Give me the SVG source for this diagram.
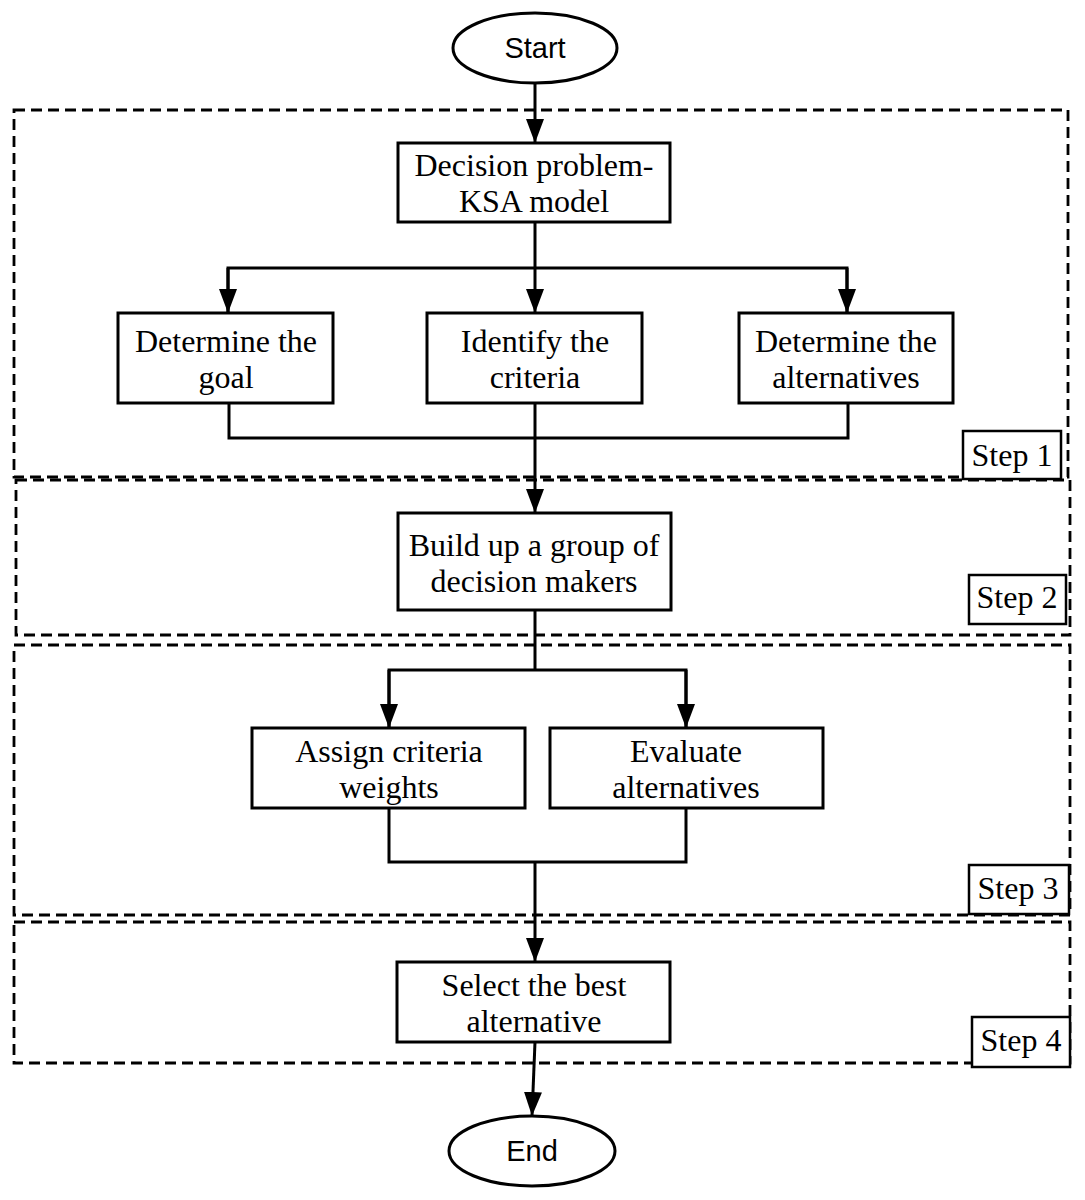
<svg xmlns="http://www.w3.org/2000/svg" width="1085" height="1200" viewBox="0 0 1085 1200">
<style>
.box{fill:#fff;stroke:#000;stroke-width:3}
.step{fill:#fff;stroke:#000;stroke-width:2.5}
.dash{fill:none;stroke:#000;stroke-width:2.8;stroke-dasharray:11 6}
.t{font-family:"Liberation Serif","Times New Roman",serif;font-size:32px;text-anchor:middle;fill:#000}
.s{font-family:"Liberation Sans",Arial,sans-serif;font-size:29px;text-anchor:middle;fill:#000}
.c{fill:none;stroke:#000;stroke-width:3}
</style>
<defs>
<marker id="arr" markerUnits="userSpaceOnUse" markerWidth="24" markerHeight="18" viewBox="0 0 24 18" refX="24" refY="9" orient="auto">
<path d="M0,0 L24,9 L0,18 Z" fill="#000"/>
</marker>
</defs>

<g id="regions">
<rect id="region1" class="dash" x="14" y="110" width="1054" height="367"/>
<rect id="region2" class="dash" x="16" y="480" width="1054" height="155"/>
<rect id="region3" class="dash" x="14" y="645" width="1056" height="270"/>
<rect id="region4" class="dash" x="14" y="922" width="1056" height="141"/>
</g>

<g id="connectors">
<line class="c" x1="535" y1="83" x2="535" y2="143" marker-end="url(#arr)"/>
<line class="c" x1="535" y1="222" x2="535" y2="313" marker-end="url(#arr)"/>
<polyline class="c" points="228,313 228,268 847,268 847,313"/>
<line class="c" x1="228" y1="268" x2="228" y2="313" marker-end="url(#arr)"/>
<line class="c" x1="847" y1="268" x2="847" y2="313" marker-end="url(#arr)"/>
<polyline class="c" points="229,403 229,438 848,438 848,403"/>
<line class="c" x1="535" y1="403" x2="535" y2="513" marker-end="url(#arr)"/>
<line class="c" x1="535" y1="610" x2="535" y2="670"/>
<polyline class="c" points="389,728 389,670 686,670 686,728"/>
<line class="c" x1="389" y1="670" x2="389" y2="728" marker-end="url(#arr)"/>
<line class="c" x1="686" y1="670" x2="686" y2="728" marker-end="url(#arr)"/>
<polyline class="c" points="389,808 389,862 686,862 686,808"/>
<line class="c" x1="535" y1="862" x2="535" y2="962" marker-end="url(#arr)"/>
<line class="c" x1="535" y1="1042" x2="532" y2="1116" marker-end="url(#arr)"/>
</g>

<g id="start">
<ellipse class="box" cx="535" cy="48" rx="82" ry="35"/>
<text class="s" x="535" y="58">Start</text>
</g>
<g id="decision">
<rect class="box" x="398" y="143" width="272" height="79"/>
<text class="t" x="534" y="176">Decision problem-</text>
<text class="t" x="534" y="212">KSA model</text>
</g>
<g id="goal">
<rect class="box" x="118" y="313" width="215" height="90"/>
<text class="t" x="226" y="352">Determine the</text>
<text class="t" x="226" y="388">goal</text>
</g>
<g id="criteria">
<rect class="box" x="427" y="313" width="215" height="90"/>
<text class="t" x="535" y="352">Identify the</text>
<text class="t" x="535" y="388">criteria</text>
</g>
<g id="alternatives">
<rect class="box" x="739" y="313" width="214" height="90"/>
<text class="t" x="846" y="352">Determine the</text>
<text class="t" x="846" y="388">alternatives</text>
</g>
<g id="build">
<rect class="box" x="398" y="513" width="273" height="97"/>
<text class="t" x="534" y="556">Build up a group of</text>
<text class="t" x="534" y="592">decision makers</text>
</g>
<g id="assign">
<rect class="box" x="252" y="728" width="273" height="80"/>
<text class="t" x="389" y="762">Assign criteria</text>
<text class="t" x="389" y="798">weights</text>
</g>
<g id="evaluate">
<rect class="box" x="550" y="728" width="273" height="80"/>
<text class="t" x="686" y="762">Evaluate</text>
<text class="t" x="686" y="798">alternatives</text>
</g>
<g id="select">
<rect class="box" x="397" y="962" width="273" height="80"/>
<text class="t" x="534" y="996">Select the best</text>
<text class="t" x="534" y="1032">alternative</text>
</g>
<g id="end">
<ellipse class="box" cx="532" cy="1151" rx="83" ry="35"/>
<text class="s" x="532" y="1161">End</text>
</g>

<g id="step1">
<rect class="step" x="963" y="431" width="98" height="48"/>
<text class="t" x="1012" y="466">Step 1</text>
</g>
<g id="step2">
<rect class="step" x="969" y="575" width="97" height="49"/>
<text class="t" x="1017" y="608">Step 2</text>
</g>
<g id="step3">
<rect class="step" x="969" y="865" width="100" height="49"/>
<text class="t" x="1018" y="899">Step 3</text>
</g>
<g id="step4">
<rect class="step" x="972" y="1017" width="98" height="50"/>
<text class="t" x="1021" y="1051">Step 4</text>
</g>
</svg>
